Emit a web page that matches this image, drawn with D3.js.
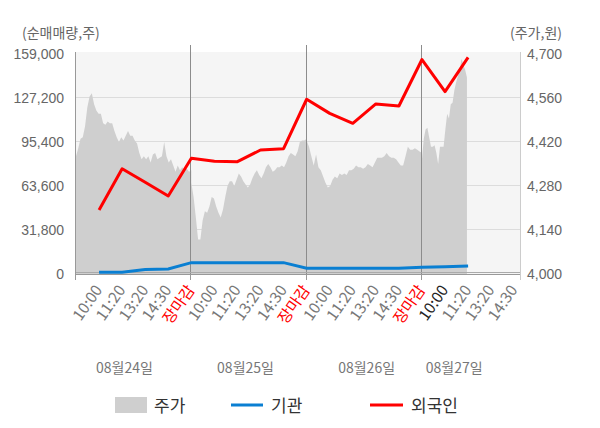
<!DOCTYPE html>
<html>
<head>
<meta charset="utf-8">
<script src="https://cdn.jsdelivr.net/npm/d3@7/dist/d3.min.js"></script>
<style>
    body { margin: 0; background: #fff; }
    svg { display: block; font-family: "Noto Sans CJK KR", "Noto Sans", sans-serif; }
</style>
</head>
<body>
<svg id="chart" width="600" height="428"></svg>
<script>
'use strict';

// x axis: one slot per label, days are 5 slots wide (slot 0 = open of day 1)
var slotLabels = ['10:00', '11:20', '13:20', '14:30', '장마감',
    '10:00', '11:20', '13:20', '14:30', '장마감',
    '10:00', '11:20', '13:20', '14:30', '장마감',
    '10:00', '11:20', '13:20', '14:30'];
var dayLabels = ['08월24일', '08월25일', '08월26일', '08월27일'];
var dayLabelSlots = [2.1, 7.35, 12.6, 16.4];

var leftTicks = [0, 31800, 63600, 95400, 127200, 159000];
var rightTicks = [4000, 4140, 4280, 4420, 4560, 4700];

// 외국인 / 기관 net volume, at slots 1..17
var foreignNet = [46300, 76100, 66300, 56400, 83600, 81500, 81200, 89600, 90600,
    126300, 116100, 108900, 122900, 121400, 155000, 131800, 156600];
var institutionNet = [1200, 1200, 3300, 3600, 8200, 8200, 8200, 8200, 8200,
    4100, 4100, 4100, 4100, 4100, 4800, 5200, 5800];

// 주가 intraday, one array per day, and how many slots of the day it covers
var day1Price = [4375, 4400, 4430, 4435, 4470, 4530, 4565, 4575, 4540, 4520, 4510, 4510, 4480,
    4475, 4485, 4480, 4480, 4455, 4435, 4420, 4435, 4425, 4440, 4455, 4440, 4440, 4425, 4415,
    4385, 4365, 4375, 4365, 4375, 4355, 4380, 4385, 4365, 4370, 4375, 4420, 4375, 4355, 4365,
    4345, 4325, 4345, 4330, 4340, 4330, 4335, 4325, 4330];
var day2Price = [4290, 4245, 4180, 4110, 4110, 4170, 4200, 4195, 4215, 4245, 4240, 4215, 4195,
    4180, 4205, 4245, 4280, 4295, 4295, 4280, 4300, 4320, 4310, 4295, 4285, 4275, 4285, 4305,
    4320, 4330, 4315, 4305, 4320, 4340, 4350, 4340, 4325, 4330, 4340, 4340, 4345, 4340, 4355,
    4375, 4385, 4380, 4375, 4390, 4420, 4425, 4425, 4430];
var day3Price = [4425, 4405, 4375, 4345, 4380, 4340, 4330, 4310, 4290, 4275, 4280, 4300, 4310,
    4305, 4320, 4315, 4320, 4315, 4330, 4330, 4335, 4345, 4340, 4340, 4335, 4340, 4350, 4345,
    4340, 4355, 4370, 4370, 4370, 4375, 4385, 4375, 4370, 4370, 4365, 4355, 4345, 4345, 4375,
    4405, 4395, 4395, 4400, 4395, 4390, 4385];
var day4Price = [4365, 4430, 4460, 4465, 4435, 4405, 4405, 4410, 4385, 4350, 4405, 4405, 4405,
    4460, 4510, 4495, 4540, 4545, 4585, 4610, 4630, 4650, 4685, 4665, 4650, 4625];
var daySpans = [5, 5, 5, 1.95];

var legendItems = ['주가', '기관', '외국인'];

var colors = { price: '#cfcfcf', institution: '#0a7fd2', foreign: '#ff0000' };

var plot = { left: 76, right: 520, top: 52, bottom: 274 };

var svg = d3.select('#chart');

var x = d3.scaleLinear().domain([0, 19.25]).range([plot.left, plot.right]);
var yLeft = d3.scaleLinear().domain([0, 159000]).range([plot.bottom, 54]);
var yRight = d3.scaleLinear().domain([4000, 4700]).range([plot.bottom, 54]);

var priceSeries = [];
[day1Price, day2Price, day3Price, day4Price].forEach(function (prices, d) {
    prices.forEach(function (p, j) {
        priceSeries.push({ slot: d * 5 + daySpans[d] * j / (prices.length - 1), value: p });
    });
});

var foreignSeries = foreignNet.map(function (v, i) { return { slot: i + 1, value: v }; });
var institutionSeries = institutionNet.map(function (v, i) { return { slot: i + 1, value: v }; });

// background + grid
svg.append('rect')
    .attr('x', plot.left).attr('y', plot.top)
    .attr('width', plot.right - plot.left).attr('height', plot.bottom - plot.top)
    .attr('fill', '#f5f5f5');

svg.append('g').selectAll('line')
    .data(leftTicks.slice(1, -1))
    .join('line')
    .attr('x1', plot.left).attr('x2', plot.right)
    .attr('y1', function (d) { return Math.round(yLeft(d)) - 0.5; })
    .attr('y2', function (d) { return Math.round(yLeft(d)) - 0.5; })
    .attr('stroke', '#dcdcdc');

// 주가 area
var area = d3.area()
    .x(function (d) { return x(d.slot); })
    .y0(plot.bottom)
    .y1(function (d) { return yRight(d.value); });

svg.append('path')
    .datum(priceSeries)
    .attr('d', area)
    .attr('fill', colors.price);

// day separators
svg.append('g').selectAll('line')
    .data([5, 10, 15])
    .join('line')
    .attr('x1', function (d) { return Math.round(x(d)) - 0.5; })
    .attr('x2', function (d) { return Math.round(x(d)) - 0.5; })
    .attr('y1', 45).attr('y2', plot.bottom + 6)
    .attr('stroke', '#8c8c8c');

// axes lines
svg.append('line')
    .attr('x1', plot.left - 0.5).attr('x2', plot.left - 0.5)
    .attr('y1', plot.top).attr('y2', plot.bottom + 6)
    .attr('stroke', '#999');
svg.append('line')
    .attr('x1', plot.right + 0.5).attr('x2', plot.right + 0.5)
    .attr('y1', plot.top).attr('y2', plot.bottom + 6)
    .attr('stroke', '#ccc');
svg.append('line')
    .attr('x1', plot.left).attr('x2', plot.right)
    .attr('y1', plot.bottom - 1.5).attr('y2', plot.bottom - 1.5)
    .attr('stroke', '#aaa');
svg.append('line')
    .attr('x1', plot.left).attr('x2', plot.right)
    .attr('y1', plot.bottom + 0.5).attr('y2', plot.bottom + 0.5)
    .attr('stroke', '#999');

// lines
var line = function (scale) {
    return d3.line()
        .x(function (d) { return x(d.slot); })
        .y(function (d) { return scale(d.value); });
};

svg.append('path')
    .datum(institutionSeries)
    .attr('d', line(yLeft))
    .attr('fill', 'none')
    .attr('stroke', colors.institution)
    .attr('stroke-width', 3);

svg.append('path')
    .datum(foreignSeries)
    .attr('d', line(yLeft))
    .attr('fill', 'none')
    .attr('stroke', colors.foreign)
    .attr('stroke-width', 3)
    .attr('stroke-linejoin', 'round');

// y axes
var leftAxis = d3.axisLeft(yLeft).tickValues(leftTicks).tickSize(0).tickPadding(12)
    .tickFormat(d3.format(','));
var gl = svg.append('g').attr('transform', 'translate(' + plot.left + ',0)').call(leftAxis);
gl.select('.domain').remove();
gl.selectAll('text').attr('fill', '#666').style('font-size', '14px').style('font-family', 'inherit');

var rightAxis = d3.axisRight(yRight).tickValues(rightTicks).tickSize(0).tickPadding(7)
    .tickFormat(d3.format(','));
var gr = svg.append('g').attr('transform', 'translate(' + plot.right + ',0)').call(rightAxis);
gr.select('.domain').remove();
gr.selectAll('text').attr('fill', '#666').style('font-size', '14px').style('font-family', 'inherit');

svg.append('text').attr('x', 22).attr('y', 38)
    .attr('fill', '#666').style('font-size', '14px')
    .text('(순매매량,주)');
svg.append('text').attr('x', 562).attr('y', 38)
    .attr('text-anchor', 'end')
    .attr('fill', '#666').style('font-size', '14px')
    .text('(주가,원)');

// x axis ticks + labels
svg.append('g').selectAll('line')
    .data([0, 5, 10, 15])
    .join('line')
    .attr('x1', function (d) { return Math.round(x(d)) - 0.5; })
    .attr('x2', function (d) { return Math.round(x(d)) - 0.5; })
    .attr('y1', plot.bottom).attr('y2', plot.bottom + 6)
    .attr('stroke', '#999');

svg.append('g').selectAll('text')
    .data(slotLabels)
    .join('text')
    .attr('transform', function (d, i) {
        return 'translate(' + (x(i + 1) + 4) + ',' + 290 + ') rotate(-55)';
    })
    .attr('text-anchor', 'end')
    .style('font-size', '15.5px')
    .attr('fill', function (d, i) {
        if (d === '장마감') return '#ff0000';
        if (i === 15) return '#222';
        return '#777';
    })
    .text(function (d) { return d; });

svg.append('g').selectAll('text')
    .data(dayLabels)
    .join('text')
    .attr('x', function (d, i) { return x(dayLabelSlots[i]); })
    .attr('y', 373)
    .attr('text-anchor', 'middle')
    .attr('fill', '#777')
    .style('font-size', '14px')
    .text(function (d) { return d; });

// legend
var legend = svg.append('g');
legend.append('rect').attr('x', 115).attr('y', 397).attr('width', 32).attr('height', 16)
    .attr('fill', colors.price);
legend.append('line').attr('x1', 231).attr('x2', 263).attr('y1', 405).attr('y2', 405)
    .attr('stroke', colors.institution).attr('stroke-width', 3);
legend.append('line').attr('x1', 370).attr('x2', 403).attr('y1', 405).attr('y2', 405)
    .attr('stroke', colors.foreign).attr('stroke-width', 3);
legend.selectAll('text')
    .data(legendItems)
    .join('text')
    .attr('x', function (d, i) { return [154, 271, 411][i]; })
    .attr('y', 412)
    .attr('fill', '#333')
    .style('font-size', '17px')
    .text(function (d) { return d; });
</script>
</body>
</html>
